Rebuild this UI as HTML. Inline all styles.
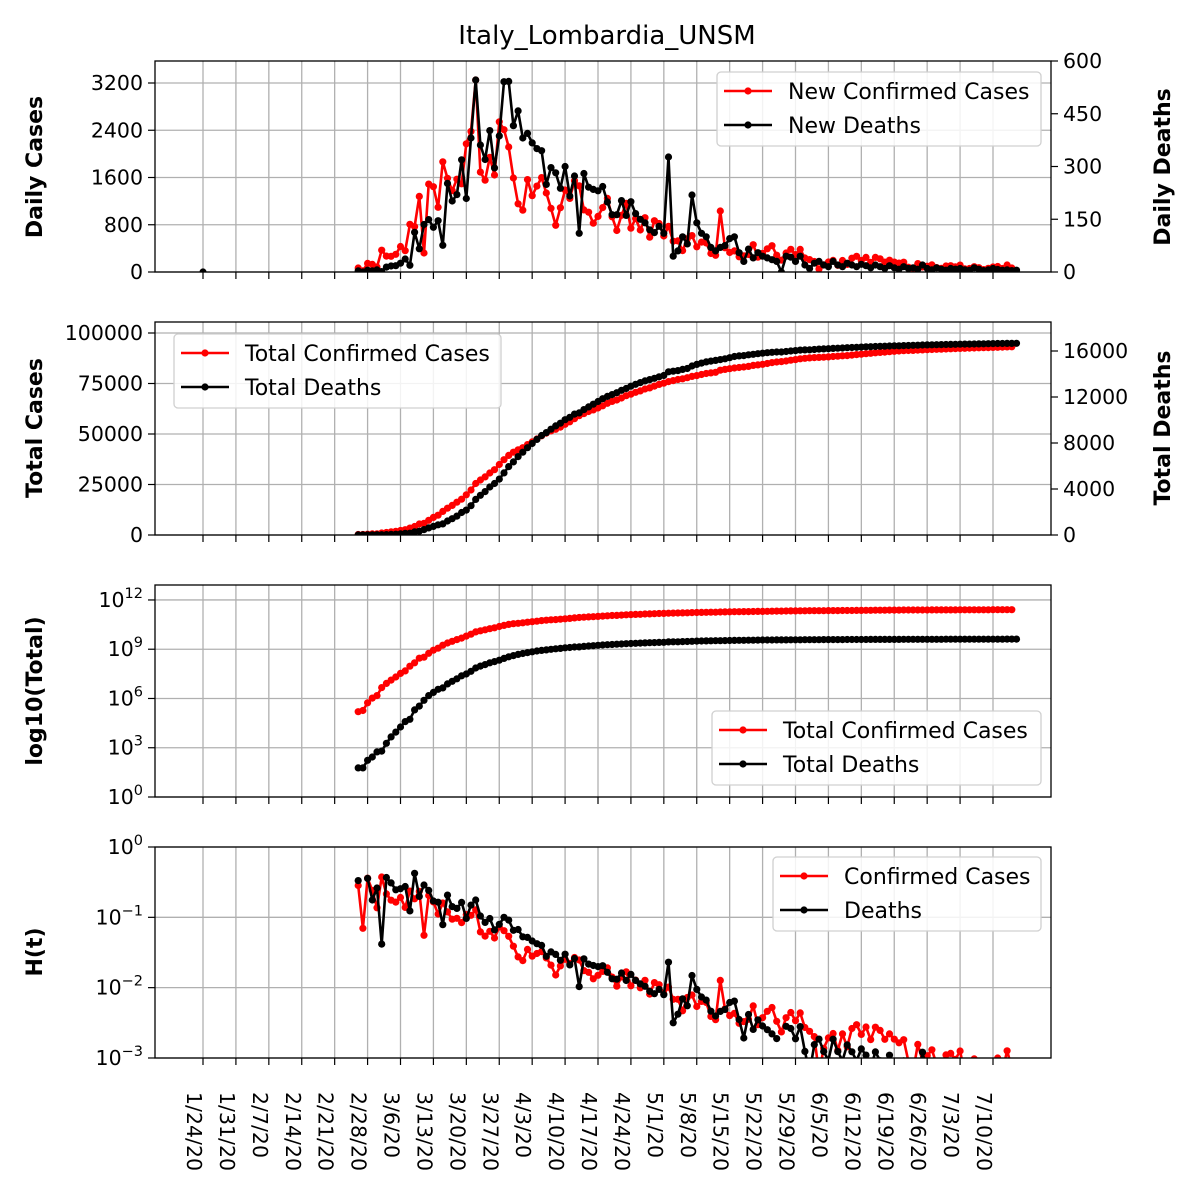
<!DOCTYPE html>
<html><head><meta charset="utf-8"><style>
body{margin:0;background:#fff}
svg{display:block;font-family:"DejaVu Sans","Liberation Sans",sans-serif}
</style></head><body>
<svg id="chart" width="1200" height="1200" viewBox="0 0 1200 1200" xmlns="http://www.w3.org/2000/svg">
<rect width="1200" height="1200" fill="#fff"/>
<text x="607" y="44" font-size="26" text-anchor="middle">Italy_Lombardia_UNSM</text>
<defs>
<clipPath id="c1"><rect x="155" y="61" width="896" height="211"/></clipPath>
<clipPath id="c2"><rect x="155" y="322" width="896" height="213"/></clipPath>
<clipPath id="c3"><rect x="155" y="585" width="896" height="212"/></clipPath>
<clipPath id="c4"><rect x="155" y="847" width="896" height="211"/></clipPath>
</defs>
<g id="grid"></g>
<g id="series"></g>
<g id="axes"></g>
</svg>
<script>
// weekly tick labels
const dateLabels = ["1/24/20","1/31/20","2/7/20","2/14/20","2/21/20","2/28/20","3/6/20","3/13/20","3/20/20","3/27/20","4/3/20","4/10/20","4/17/20","4/24/20","5/1/20","5/8/20","5/15/20","5/22/20","5/29/20","6/5/20","6/12/20","6/19/20","6/26/20","7/3/20","7/10/20"];
const startDay = 33; // first data point = 2/26/20 (days since 1/24/20)
const newCases = [68,18,145,128,84,369,270,266,300,431,361,808,769,1280,322,1489,1445,1095,1865,1587,1377,1571,1493,2171,2380,3251,1691,1555,1942,1643,2543,2409,2117,1592,1154,1047,1565,1292,1455,1598,1337,1079,791,1089,1388,1246,1544,1460,1051,1012,827,941,1091,1246,934,702,960,1161,741,905,711,920,590,869,822,610,772,522,526,363,564,617,426,507,492,313,282,1033,410,330,357,258,274,296,462,250,316,392,446,285,202,322,384,294,382,237,210,177,53,121,170,197,114,195,128,234,266,194,248,164,247,223,167,200,168,150,166,82,58,143,85,99,120,75,62,102,107,88,116,55,59,90,72,40,62,84,93,60,118,68];
const newDeaths = [3,0,5,3,6,1,14,17,18,25,37,19,113,66,135,149,127,146,76,252,202,220,319,209,381,546,361,320,402,296,387,541,542,416,458,381,394,367,351,345,249,297,282,238,300,216,273,110,280,241,235,231,243,199,163,163,203,161,200,166,150,140,120,112,130,110,327,45,60,100,80,219,140,110,100,70,60,70,75,95,100,55,30,65,40,55,45,40,35,30,0,45,42,30,45,20,10,25,30,20,15,30,20,15,25,20,15,22,18,12,20,15,10,18,12,8,15,10,12,8,20,10,6,12,8,5,10,8,10,6,5,12,8,4,6,10,7,5,6,4,5];
const initialDay = [0]; // lone zero-valued point at 1/24/20
const leftTicks1 = [0,800,1600,2400,3200];
const rightTicks1 = [0,150,300,450,600];
const leftTicks2 = [0,25000,50000,75000,100000];
const rightTicks2 = [0,4000,8000,12000,16000];
const logTicks3 = [0,3,6,9,12];
const logTicks4 = [0,-1,-2,-3];

const NS="http://www.w3.org/2000/svg";
const X0=155,X1=1051;
const P=[{t:61,b:272},{t:322,b:535},{t:585,b:797},{t:847,b:1058}];
function xS(d){return 203+d*(790/168);}
const y1L=v=>272-v*(47.25/800), y1R=v=>272-v*(211/600);
const y2L=v=>535-v*(50.5/25000), y2R=v=>535-v*(46/4000);
const y3=v=>797-Math.log10(v)*16.42;
const y4=v=>847-Math.log10(v)*70.33;
function mk(tag,attrs,parent){const e=document.createElementNS(NS,tag);for(const k in attrs)e.setAttribute(k,attrs[k]);parent.appendChild(e);return e;}
const G=document.getElementById('grid'),S=document.getElementById('series'),A=document.getElementById('axes');

const totCases=[],totDeaths=[];
let sc=172,sd=6;
for(let i=0;i<newCases.length;i++){sc+=newCases[i];totCases.push(sc);}
for(let i=0;i<newDeaths.length;i++){sd+=newDeaths[i];totDeaths.push(sd);}

P.forEach((p,pi)=>{
  dateLabels.forEach((l,i)=>{const x=xS(i*7);
    const g=mk('line',{x1:x,x2:x,y1:p.t,y2:p.b,stroke:'#b0b0b0','stroke-width':1.3},G);
    
    
  });
});
function hgrid(p,ys){ys.forEach(y=>{const g=mk('line',{x1:X0,x2:X1,y1:y,y2:y,stroke:'#b0b0b0','stroke-width':1.3},G);
  
  });}
hgrid(P[0],leftTicks1.map(y1L));
hgrid(P[1],leftTicks2.map(y2L));
hgrid(P[2],logTicks3.map(e=>797-e*16.42));
hgrid(P[3],logTicks4.map(e=>847-e*70.33));

function series(vals,yf,color,clip,name,d0){
  const g=mk('g',{'clip-path':'url(#'+clip+')'},S);
  
  
  let segs=[],cur=[];
  vals.forEach((v,i)=>{const y=yf(v);
    if(!isFinite(y)){if(cur.length)segs.push(cur);cur=[];return;}
    cur.push([xS(d0+i),y]);});
  if(cur.length)segs.push(cur);
  segs.forEach(s=>{mk('polyline',{points:s.map(p=>p[0].toFixed(1)+','+p[1].toFixed(1)).join(' '),fill:'none',stroke:color,'stroke-width':2.6,'stroke-linejoin':'round'},g);
    s.forEach(p=>{const c=mk('circle',{cx:p[0].toFixed(1),cy:p[1].toFixed(1),r:3.6,fill:color},g);
      
      });});
}
series(newCases,y1L,'#ff0000','c1','new-cases-series',startDay);
series(newDeaths,y1R,'#000','c1','new-deaths-series',startDay);
series(initialDay,y1R,'#000','c1','initial-day-point',0);
series(totCases,y2L,'#ff0000','c2','total-cases-series',startDay);
series(totDeaths,y2R,'#000','c2','total-deaths-series',startDay);
series(totCases.map(v=>Math.pow(v,2.4)/3.3),y3,'#ff0000','c3','log-cases-series',startDay);
series(totDeaths.map(v=>Math.pow(v,2.4)/3.3),y3,'#000','c3','log-deaths-series',startDay);
series(newCases.map((v,i)=>v/totCases[i]),y4,'#ff0000','c4','h-cases-series',startDay);
series(newDeaths.map((v,i)=>v/totDeaths[i]),y4,'#000','c4','h-deaths-series',startDay);

P.forEach(p=>{const r=mk('rect',{x:X0,y:p.t,width:X1-X0,height:p.b-p.t,fill:'none',stroke:'#000','stroke-width':1.3},A);
  
  
  dateLabels.forEach((l,i)=>{const x=xS(i*7);mk('line',{x1:x,x2:x,y1:p.b,y2:p.b+7,stroke:'#000','stroke-width':1.2},A);});
});
dateLabels.forEach((l,i)=>{const x=xS(i*7);
  const t=mk('text',{x:0,y:0,'font-size':20.5,transform:`translate(${x-16},1092) rotate(90)`},A);
  t.textContent=l;
  
  });
function yt(vals,yf,side,labels){vals.forEach((v,i)=>{const y=yf(v);
  const x=side==='L'?X0:X1;
  mk('line',{x1:x,x2:side==='L'?x-7:x+7,y1:y,y2:y,stroke:'#000','stroke-width':1.2},A);
  const t=mk('text',{x:side==='L'?x-12:x+12,y:y+7,'font-size':20.5,'text-anchor':side==='L'?'end':'start'},A);
  if(labels)labels(t,v);else t.textContent=v;
  
  });}
yt(leftTicks1,y1L,'L');yt(rightTicks1,y1R,'R');
yt(leftTicks2,y2L,'L');yt(rightTicks2,y2R,'R');
function sup(t,e){const b=mk('tspan',{},t);b.textContent='10';const s=mk('tspan',{dy:-9,'font-size':14.5},t);s.textContent=String(e).replace('-','\u2212');}
yt(logTicks3,e=>797-e*16.42,'L',sup);
yt(logTicks4,e=>847-e*70.33,'L',sup);

function ylab(txt,x,y,name){const t=mk('text',{x:0,y:0,'font-size':22,'font-weight':'bold','text-anchor':'middle',transform:`translate(${x},${y}) rotate(-90)`},A);
  t.textContent=txt;}
ylab('Daily Cases',42,167,'y-axis-title-daily-cases');
ylab('Daily Deaths',1170,167,'y-axis-title-daily-deaths');
ylab('Total Cases',42,428,'y-axis-title-total-cases');
ylab('Total Deaths',1170,428,'y-axis-title-total-deaths');
ylab('log10(Total)',42,691,'y-axis-title-log-total');
ylab('H(t)',42,952,'y-axis-title-h');

function legend(x,y,w,items,name){const g=mk('g',{},A);
  
  mk('rect',{x:x,y:y,width:w,height:74,rx:4,fill:'#fff','fill-opacity':0.85,stroke:'#d0d0d0','stroke-width':1.3},g);
  items.forEach((it,i)=>{const yy=y+19+i*34;
    const e=mk('g',{},g);
    mk('line',{x1:x+7,x2:x+55,y1:yy,y2:yy,stroke:it[1],'stroke-width':2.6},e);
    mk('circle',{cx:x+31,cy:yy,r:3.6,fill:it[1]},e);
    const t=mk('text',{x:x+71,y:yy+8,'font-size':22},e);t.textContent=it[0];});
}
legend(717,72,324,[['New Confirmed Cases','#ff0000'],['New Deaths','#000']],'legend-daily');
legend(174,334,327,[['Total Confirmed Cases','#ff0000'],['Total Deaths','#000']],'legend-total');
legend(712,711,329,[['Total Confirmed Cases','#ff0000'],['Total Deaths','#000']],'legend-log');
legend(773,857,268,[['Confirmed Cases','#ff0000'],['Deaths','#000']],'legend-h');
</script>
</body></html>
